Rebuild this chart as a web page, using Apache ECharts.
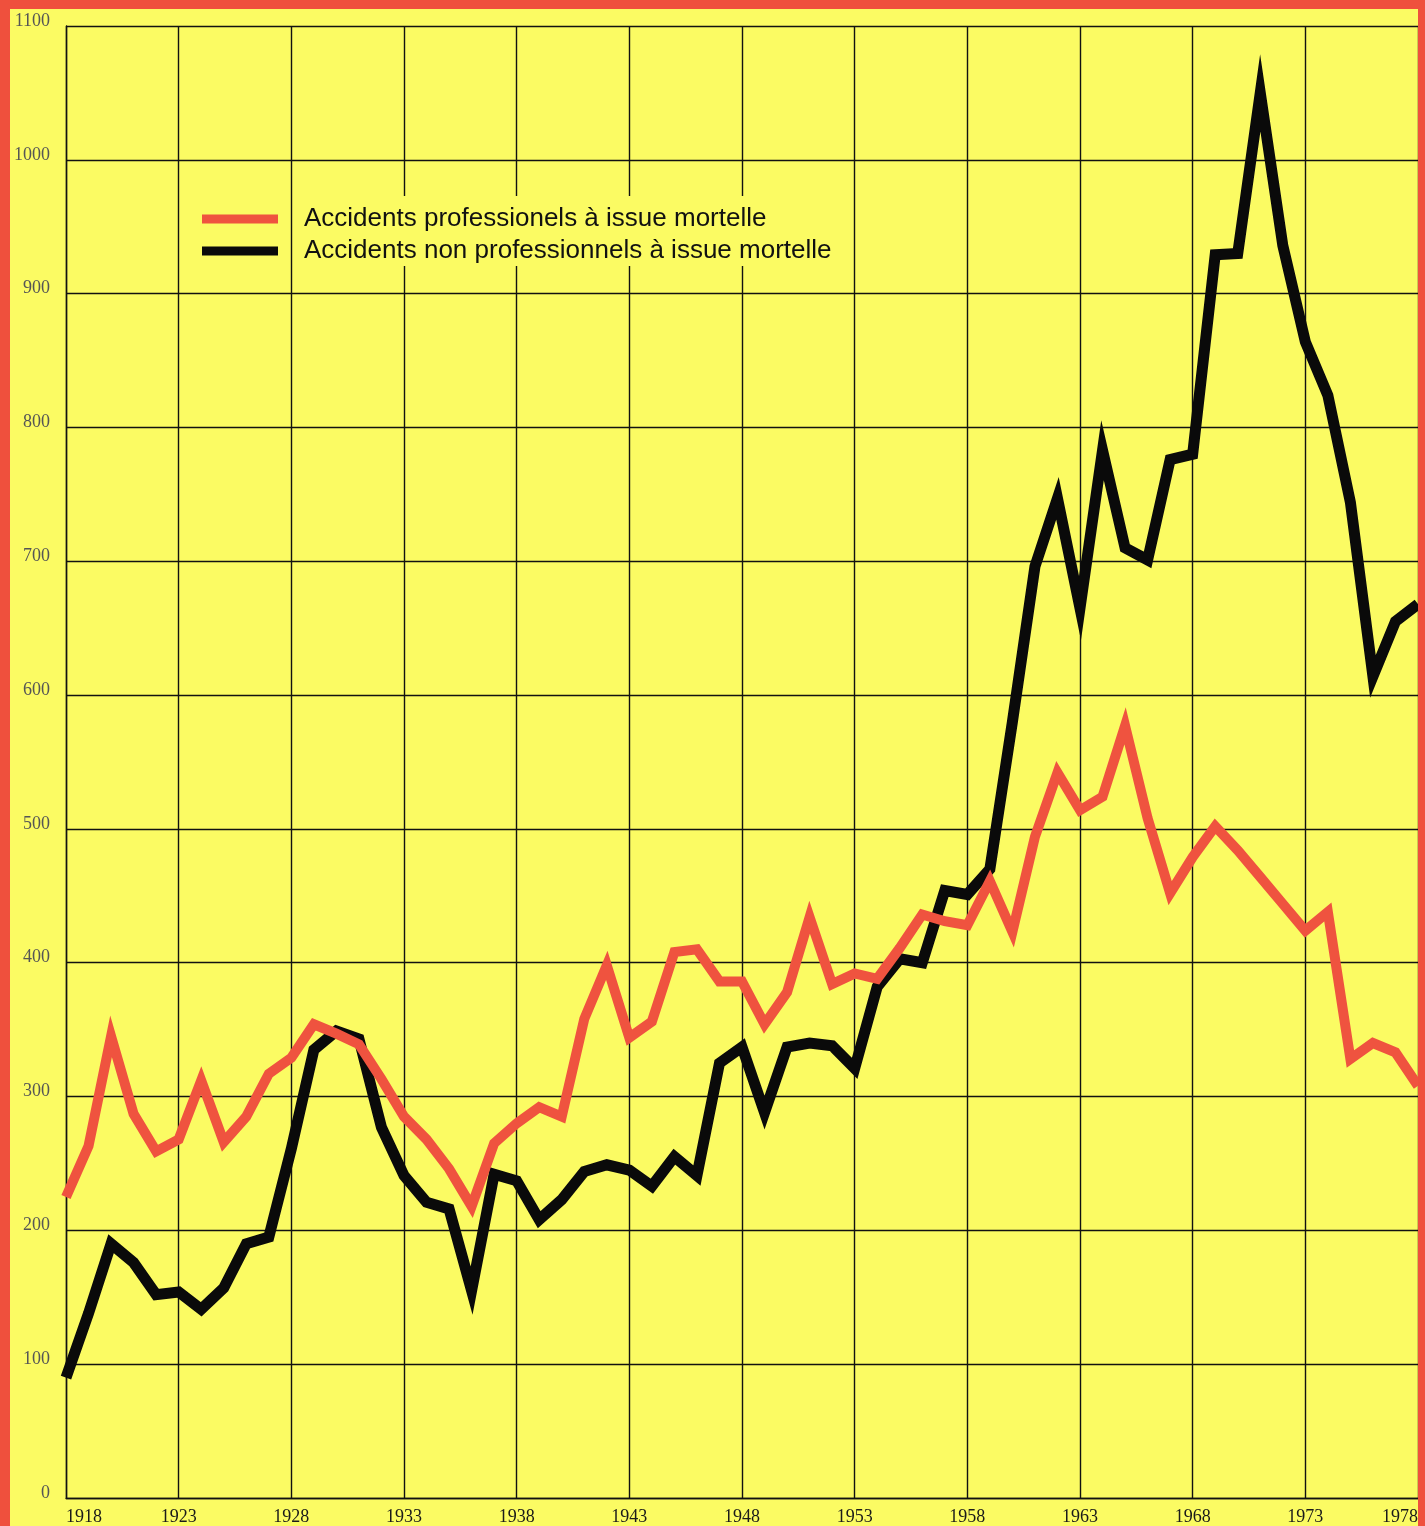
<!DOCTYPE html>
<html>
<head>
<meta charset="utf-8">
<title>Accidents à issue mortelle 1918-1978</title>
<script src="https://cdn.jsdelivr.net/npm/echarts@6/dist/echarts.min.js"></script>
<style>
  html, body { margin: 0; padding: 0; }
  body { width: 1425px; height: 1526px; background: #ef503d; position: relative; overflow: hidden; }
  #chart { position: absolute; left: 10px; top: 9px; width: 1415px; height: 1517px; background: #fbfb63; }
  /* red edge on the right, sits over the last label like in the print */
  #edge { position: absolute; left: 1418px; top: 0; width: 7px; height: 1526px; background: #ef503d; z-index: 2; }
</style>
</head>
<body>
<div id="chart"></div>
<div id="edge"></div>
<script>
const years = [
  '1918', '1919', '1920', '1921', '1922', '1923', '1924', '1925', '1926', '1927',
  '1928', '1929', '1930', '1931', '1932', '1933', '1934', '1935', '1936', '1937',
  '1938', '1939', '1940', '1941', '1942', '1943', '1944', '1945', '1946', '1947',
  '1948', '1949', '1950', '1951', '1952', '1953', '1954', '1955', '1956', '1957',
  '1958', '1959', '1960', '1961', '1962', '1963', '1964', '1965', '1966', '1967',
  '1968', '1969', '1970', '1971', '1972', '1973', '1974', '1975', '1976', '1977',
  '1978'
];

// accidents professionnels (red)
const proValues = [
  225, 263, 345, 287, 259, 268, 312, 266, 285, 317,
  329, 354, 347, 339, 313, 285, 268, 246, 218, 265,
  280, 292, 285, 358, 398, 344, 356, 408, 410, 386,
  386, 354, 378, 434, 384, 392, 388, 411, 436, 431,
  428, 461, 423, 494, 542, 514, 524, 577, 508, 452,
  479, 502, 484, 464, 444, 424, 438, 328, 340, 333,
  308
];

// accidents non professionnels (black)
const nonProValues = [
  90, 138, 190, 176, 152, 154, 141, 157, 190, 195,
  261, 335, 349, 343, 277, 241, 221, 216, 155, 242,
  237, 208, 223, 244, 249, 245, 233, 255, 241, 325,
  337, 288, 337, 340, 338, 321, 382, 403, 400, 454,
  451, 470, 580, 696, 747, 665, 783, 710, 701, 776,
  780, 929, 930, 1050, 936, 864, 824, 744, 614, 655,
  668
];

const seriesNames = [
  'Accidents professionels à issue mortelle',
  'Accidents non professionnels à issue mortelle'
];

const yellow = '#fbfb63';
const red = '#ef533f';
const ink = '#111';

const chart = echarts.init(document.getElementById('chart'));

const gridLine = { color: ink, width: 1.4 };

chart.setOption({
  animation: false,
  grid: { left: 56, right: 7, top: 17, bottom: 27 },
  legend: {
    data: seriesNames,
    orient: 'vertical',
    left: 192,
    top: 194,
    padding: 0,
    icon: 'rect',
    itemWidth: 76,
    itemHeight: 9,
    itemGap: 0,
    z: 10,
    textStyle: {
      fontFamily: 'Liberation Sans',
      fontSize: 26,
      lineHeight: 22,
      color: ink,
      padding: [0, 0, 10, 21]
    }
  },
  // plain patch behind the legend text, it hides the grid there
  graphic: [{
    type: 'rect',
    left: 286,
    top: 187,
    z: 1,
    silent: true,
    shape: { width: 550, height: 70 },
    style: { fill: yellow }
  }],
  xAxis: {
    type: 'category',
    data: years,
    boundaryGap: false,
    axisLine: { lineStyle: gridLine },
    axisTick: { show: false },
    axisLabel: {
      interval: 4,
      margin: 10,
      fontFamily: 'Liberation Serif',
      fontSize: 18,
      color: '#1a1a1a',
      alignMinLabel: 'left',
      alignMaxLabel: 'right'
    },
    splitLine: { show: true, interval: 4, lineStyle: gridLine }
  },
  yAxis: {
    type: 'value',
    min: 0,
    max: 1100,
    interval: 100,
    axisLine: { show: true, lineStyle: gridLine },
    axisTick: { show: false },
    axisLabel: {
      margin: 16,
      fontFamily: 'Liberation Serif',
      fontSize: 18,
      color: '#555',
      verticalAlign: 'bottom',
      lineHeight: 10,
      formatter: v => String(v)
    },
    splitLine: { show: true, lineStyle: gridLine }
  },
  series: [
    {
      name: seriesNames[1],
      type: 'line',
      data: nonProValues,
      symbol: 'none',
      color: '#0a0a0a',
      lineStyle: { width: 11, join: 'miter', miterLimit: 12, cap: 'butt' }
    },
    {
      name: seriesNames[0],
      type: 'line',
      data: proValues,
      symbol: 'none',
      color: red,
      lineStyle: { width: 10, join: 'miter', miterLimit: 12, cap: 'butt' }
    }
  ]
});
</script>
</body>
</html>
